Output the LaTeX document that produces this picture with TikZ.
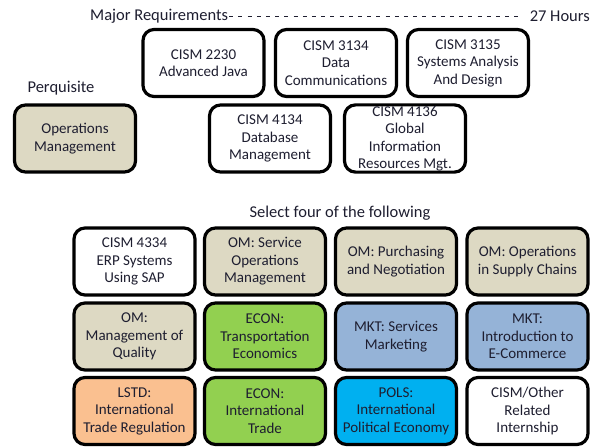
\documentclass[tikz,border=0pt]{standalone}
\usepackage{fontspec}
\setmainfont{Carlito}
\definecolor{txt}{RGB}{30,30,48}
\definecolor{tan}{HTML}{DDD9C3}
\definecolor{grn}{HTML}{92D050}
\definecolor{blu}{HTML}{95B3D7}
\definecolor{cyn}{HTML}{00B0F0}
\definecolor{org}{HTML}{FAC090}
\begin{document}
\begin{tikzpicture}[x=1pt,y=-1pt,
  box/.style={draw=black, line width=3.2pt, rounded corners=11pt, minimum width=121pt, minimum height=67pt,
    align=center, text=txt, font=\fontsize{15}{17.5}\selectfont, inner sep=1pt},
  lbl/.style={text=txt, font=\fontsize{16.5}{19}\selectfont, inner sep=0pt}]
\useasboundingbox (0,0) rectangle (594,447);
\fill[white] (0,0) rectangle (594,447);
% header
\node[lbl, anchor=west] (mr) at (90,16) {Major Requirements};
\node[lbl, anchor=east] (hrs) at (590,16) {27 Hours};
\draw[txt, line width=0.8pt, dash pattern=on 4pt off 5.2pt] ([xshift=1pt]mr.east) -- ([xshift=-6pt]hrs.west);
\node[lbl] (perq) at (61,88) {Perquisite};
\node[lbl] (sel) at (340,213) {Select four of the following};
% major requirements
\node[box, fill=white] (j2230) at (203.5,63) {CISM 2230\\Advanced Java};
\node[box, fill=white] (c3134) at (336,63) {CISM 3134\\Data\\Communications};
\node[box, fill=white] (c3135) at (468,63) {CISM 3135\\Systems Analysis\\And Design};
\node[box, fill=white] (d4134) at (270,138.5) {CISM 4134\\Database\\Management};
\node[box, fill=white] (g4136) at (405,138.5) {CISM 4136\\Global\\Information\\Resources Mgt.};
\node[box, fill=tan] (om) at (75,138.5) {Operations\\Management};
% electives
\node[box, fill=white] (e11) at (134.5,261.5) {CISM 4334\\ERP Systems\\Using SAP};
\node[box, fill=tan] (e12) at (265,261.5) {OM: Service\\Operations\\Management};
\node[box, fill=tan] (e13) at (396,261.5) {OM: Purchasing\\and Negotiation};
\node[box, fill=tan] (e14) at (527.5,261.5) {OM: Operations\\in Supply Chains};
\node[box, fill=tan] (e21) at (134.5,336.5) {OM:\\Management of\\Quality};
\node[box, fill=grn] (e22) at (265,336.5) {ECON:\\Transportation\\Economics};
\node[box, fill=blu] (e23) at (396,336.5) {MKT: Services\\Marketing};
\node[box, fill=blu] (e24) at (527.5,336.5) {MKT:\\Introduction to\\E-Commerce};
\node[box, fill=org] (e31) at (134.5,411) {LSTD:\\International\\Trade Regulation};
\node[box, fill=grn] (e32) at (265,411) {ECON:\\International\\Trade};
\node[box, fill=cyn] (e33) at (396,411) {POLS:\\International\\Political Economy};
\node[box, fill=white] (e34) at (527.5,411) {CISM/Other\\Related\\Internship};
\end{tikzpicture}
\end{document}
